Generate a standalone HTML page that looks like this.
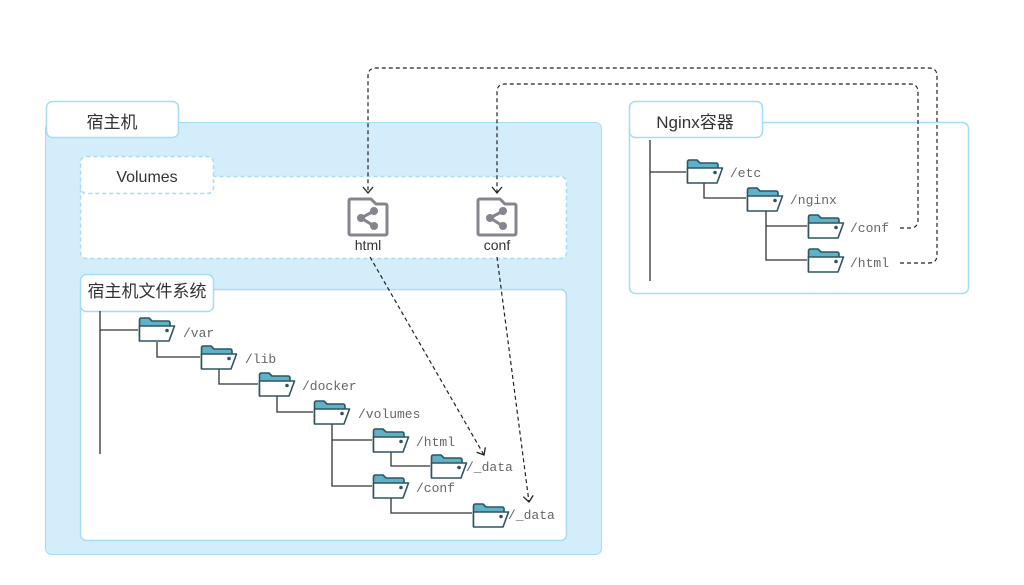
<!DOCTYPE html>
<html><head><meta charset="utf-8"><style>
html,body{margin:0;padding:0;background:#fff;}
svg{display:block;}
text{font-family:"Liberation Sans","Noto Sans CJK SC",sans-serif;fill:#333;}
.m{font-family:"Liberation Mono","DejaVu Sans Mono",monospace;font-size:13px;fill:#666;}
</style></head><body>
<svg width="1024" height="585" viewBox="0 0 1024 585" xmlns="http://www.w3.org/2000/svg">
<defs>
<g id="f">
<path d="M1.5,24 L1.5,3 Q1.5,1 3.5,1 L11,1 L14,4 L30,4 Q32,4 32,6 L32,9" fill="#5fb1c7" stroke="#2e5560" stroke-width="1.6" stroke-linejoin="round"/>
<path d="M1.5,9 L1.5,24 L31,24 L36.5,9 Z" fill="#fff" stroke="#2e5560" stroke-width="1.6" stroke-linejoin="round"/>
<circle cx="29" cy="13.5" r="1.8" fill="#2e5560"/>
</g>
<g id="v">
<path d="M4,2 L24,2 L29,7 L38,7 Q40,7 40,9 L40,36 Q40,38 38,38 L4,38 Q2,38 2,36 L2,4 Q2,2 4,2 Z" fill="#fff" stroke="#85858f" stroke-width="3" stroke-linejoin="round"/>
<circle cx="27" cy="14" r="4" fill="#85858f"/>
<circle cx="14" cy="21" r="4" fill="#85858f"/>
<circle cx="27" cy="29" r="4" fill="#85858f"/>
<path d="M27,14 L14,21 L27,29" stroke="#85858f" stroke-width="3" fill="none"/>
</g>
<marker id="a" markerWidth="12" markerHeight="12" refX="10" refY="6" orient="auto" markerUnits="userSpaceOnUse"><path d="M4,1 L10,6 L4,11" fill="none" stroke="#222" stroke-width="1.3"/></marker>
</defs>

<rect x="45.5" y="122.5" width="556" height="432" rx="6" fill="#d3eefa" stroke="#a6dcf5"/>
<rect x="46.5" y="101.5" width="132" height="36" rx="6" fill="#fff" stroke="#a6dcf5" stroke-width="1.5"/>
<text x="112" y="128" font-size="17" text-anchor="middle">宿主机</text>

<rect x="80.5" y="176.5" width="486" height="82" rx="6" fill="#fff" stroke="#a6dcf5" stroke-width="1.5" stroke-dasharray="4,3"/>
<rect x="80.5" y="156.5" width="133" height="37" rx="6" fill="#fff" stroke="#a6dcf5" stroke-width="1.5" stroke-dasharray="4,3"/>
<text x="147" y="182" font-size="16" text-anchor="middle">Volumes</text>

<rect x="80.5" y="289.5" width="486" height="251" rx="6" fill="#fff" stroke="#a6dcf5" stroke-width="1.5"/>
<rect x="80.5" y="274.5" width="133" height="37" rx="6" fill="#fff" stroke="#a6dcf5" stroke-width="1.5"/>
<text x="147" y="297" font-size="17" text-anchor="middle">宿主机文件系统</text>

<rect x="629.5" y="122.5" width="339" height="171" rx="6" fill="#fff" stroke="#a6dcf5" stroke-width="1.5"/>
<rect x="629.5" y="101.5" width="133" height="36" rx="6" fill="#fff" stroke="#a6dcf5" stroke-width="1.5"/>
<text x="695" y="128" font-size="17" text-anchor="middle">Nginx容器</text>

<g stroke="#333" stroke-width="1.3" fill="none">
<path d="M100,311 V454 M100,330 H138"/>
<path d="M157,342 V357 H200"/>
<path d="M219,369 V384 H258"/>
<path d="M277,396 V412 H313"/>
<path d="M332,424 V486 H372 M332,440 H372"/>
<path d="M391,452 V466 H430"/>
<path d="M391,498 V513 H472"/>
<path d="M650,140 V281 M650,172 H686"/>
<path d="M704,183 V198 H746"/>
<path d="M766,210 V260 H807 M766,226 H807"/>
</g>

<use href="#f" x="138" y="317"/><text class="m" x="183" y="337">/var</text>
<use href="#f" x="200" y="345"/><text class="m" x="245" y="363">/lib</text>
<use href="#f" x="258" y="372"/><text class="m" x="302" y="390">/docker</text>
<use href="#f" x="313" y="400"/><text class="m" x="358" y="418">/volumes</text>
<use href="#f" x="372" y="428"/><text class="m" x="416" y="446">/html</text>
<use href="#f" x="430" y="454"/><text class="m" x="466" y="471">/_data</text>
<use href="#f" x="372" y="474"/><text class="m" x="416" y="492">/conf</text>
<use href="#f" x="472" y="503"/><text class="m" x="508" y="519">/_data</text>

<use href="#f" x="686" y="159"/><text class="m" x="730" y="177">/etc</text>
<use href="#f" x="746" y="187"/><text class="m" x="790" y="204">/nginx</text>
<use href="#f" x="807" y="214"/><text class="m" x="850" y="232">/conf</text>
<use href="#f" x="807" y="248"/><text class="m" x="850" y="267">/html</text>

<use href="#v" x="347" y="197"/><text x="368" y="250" font-size="14" text-anchor="middle">html</text>
<use href="#v" x="476" y="197"/><text x="497" y="250" font-size="14" text-anchor="middle">conf</text>

<g stroke="#222" stroke-width="1.2" fill="none" stroke-dasharray="4,3">
<path d="M900,228 H910 Q918,228 918,220 V92 Q918,84 910,84 H505 Q497,84 497,92 V193" marker-end="url(#a)"/>
<path d="M900,263 H929 Q937,263 937,255 V76 Q937,68 929,68 H376 Q368,68 368,76 V193" marker-end="url(#a)"/>
<path d="M370,257 L484,455" marker-end="url(#a)"/>
<path d="M497,257 L529,502" marker-end="url(#a)"/>
</g>
</svg>
</body></html>
